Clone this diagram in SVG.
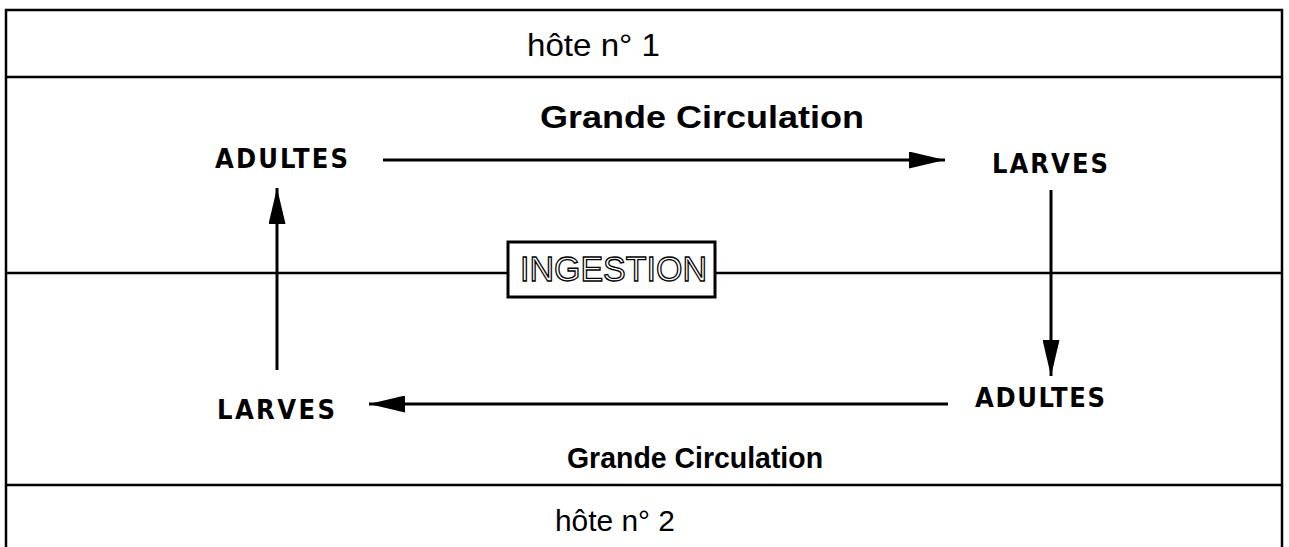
<svg xmlns="http://www.w3.org/2000/svg" width="1289" height="547" viewBox="0 0 1289 547">
<defs>
<marker id="ah" viewBox="0 0 36 17" refX="36" refY="8.5" markerWidth="36" markerHeight="17" markerUnits="userSpaceOnUse" orient="auto">
<path d="M0,0 L36,8.5 L0,17 Z" fill="#000"/>
</marker>
<style>
.frame{fill:none;stroke:#000;stroke-width:2.5}
.ln{fill:none;stroke:#000;stroke-width:2.5}
.arr{fill:none;stroke:#000;stroke-width:3;marker-end:url(#ah)}
.host{font-family:"Liberation Sans",Arial,sans-serif;fill:#000}
.gc{font-family:"Liberation Sans",Arial,sans-serif;font-weight:bold;fill:#000}
.stage{font-family:"DejaVu Sans Condensed","DejaVu Sans",sans-serif;font-size:27px;font-weight:bold;fill:#000}
.ing{font-family:"Liberation Sans",Arial,sans-serif;font-size:35px;fill:#fff;stroke:#000;stroke-width:1.3}
</style>
</defs>
<g id="frame">
<path class="frame" d="M6,548 L6,10 L1282,10 L1282,548"/>
<line class="ln" x1="6" y1="77" x2="1282" y2="77"/>
<line class="ln" x1="6" y1="485" x2="1282" y2="485"/>
<line class="ln" x1="6" y1="273" x2="508" y2="273"/>
<line class="ln" x1="715" y1="273" x2="1282" y2="273"/>
</g>
<g id="host1"><text class="host" x="527" y="56" font-size="32" textLength="133" lengthAdjust="spacingAndGlyphs">hôte n° 1</text></g>
<g id="host2"><text class="host" x="555" y="531" font-size="30" textLength="120" lengthAdjust="spacingAndGlyphs">hôte n° 2</text></g>
<g id="gc1"><text class="gc" x="540" y="128" font-size="32" textLength="324" lengthAdjust="spacingAndGlyphs">Grande Circulation</text></g>
<g id="gc2"><text class="gc" x="567" y="468" font-size="30" textLength="256" lengthAdjust="spacingAndGlyphs">Grande Circulation</text></g>
<g id="adultes1"><text class="stage" x="215" y="168" textLength="133" lengthAdjust="spacing">ADULTES</text></g>
<g id="larves1"><text class="stage" x="992" y="173" textLength="116" lengthAdjust="spacing">LARVES</text></g>
<g id="adultes2"><text class="stage" x="975" y="407" textLength="130" lengthAdjust="spacing">ADULTES</text></g>
<g id="larves2"><text class="stage" x="217" y="419" textLength="118" lengthAdjust="spacing">LARVES</text></g>
<g id="ingestion">
<rect x="508" y="242" width="207" height="55" fill="#fff" stroke="#000" stroke-width="3"/>
<text class="ing" x="520" y="281" textLength="187" lengthAdjust="spacingAndGlyphs">INGESTION</text>
</g>
<g id="connectors">
<line class="arr" x1="383" y1="160" x2="945" y2="160"/>
<line class="arr" x1="1051" y1="190" x2="1051" y2="376"/>
<line class="arr" x1="948" y1="404" x2="369" y2="404"/>
<line class="arr" x1="277" y1="370" x2="277" y2="188"/>
</g>
</svg>
